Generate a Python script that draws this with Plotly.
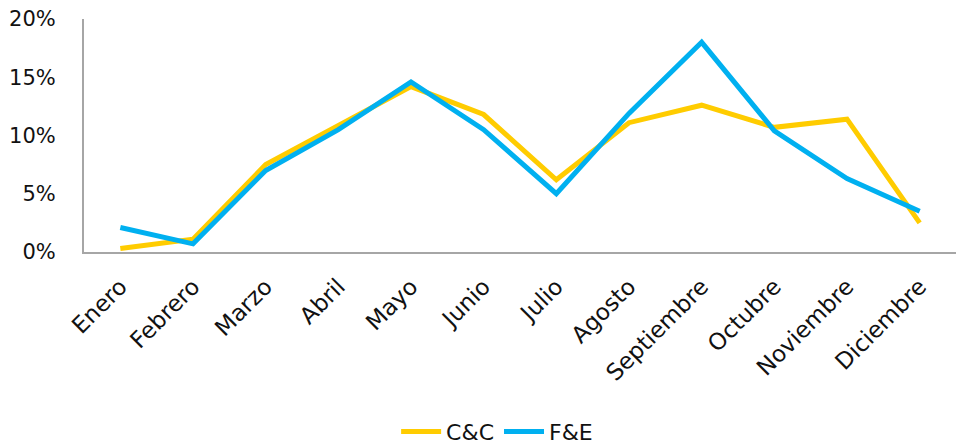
import plotly.graph_objects as go

months = ["Enero", "Febrero", "Marzo", "Abril", "Mayo", "Junio", "Julio",
          "Agosto", "Septiembre", "Octubre", "Noviembre", "Diciembre"]
cc = [0.3, 1.1, 7.5, 10.9, 14.2, 11.8, 6.2, 11.1, 12.6, 10.7, 11.4, 2.5]
fe = [2.1, 0.7, 7.0, 10.5, 14.6, 10.5, 5.0, 11.9, 18.0, 10.4, 6.3, 3.5]
y_ticks = [0, 5, 10, 15, 20]
y_tick_labels = ["0%", "5%", "10%", "15%", "20%"]

FONT = "DejaVu Sans"

fig = go.Figure()
fig.add_trace(go.Scatter(x=months, y=cc, name="C&C", mode="lines",
                         line=dict(color="#FFCC00", width=5)))
fig.add_trace(go.Scatter(x=months, y=fe, name="F&E", mode="lines",
                         line=dict(color="#00B0F0", width=5)))

fig.update_layout(
    width=956, height=445,
    margin=dict(l=84, r=0, t=19, b=193),
    paper_bgcolor="white", plot_bgcolor="white",
    font=dict(family=FONT, size=21, color="#111111"),
    showlegend=True,
    legend=dict(orientation="h", xref="container", yref="container",
                x=0.52, xanchor="center", y=0.03, yanchor="middle",
                font=dict(size=22, family=FONT), itemwidth=40,
                traceorder="normal"),
    xaxis=dict(type="category", range=[-0.5, 11.5], showgrid=False,
               showline=True, linecolor="#A6A6A6", linewidth=2,
               ticks="", tickangle=-45, ticklabelstandoff=10,
               tickfont=dict(size=23, family=FONT), zeroline=False),
    yaxis=dict(range=[0, 20], tickvals=y_ticks, ticktext=y_tick_labels,
               showgrid=False, showline=True, linecolor="#A6A6A6", linewidth=2,
               ticks="", ticklabelstandoff=22, zeroline=False,
               tickfont=dict(size=21, family=FONT)),
)

fig.write_html("out.html")
